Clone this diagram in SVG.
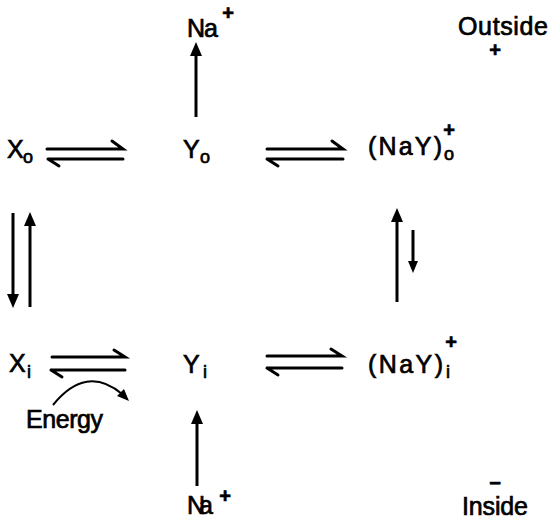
<svg xmlns="http://www.w3.org/2000/svg" width="549" height="520" viewBox="0 0 549 520">
<style>
text{font-family:"Liberation Sans","DejaVu Sans",Arial,sans-serif;fill:#000;stroke:#000;stroke-width:0.7}
.t{font-size:25px}
.s{font-size:18px}
.p{font-size:20px;font-weight:bold;text-anchor:middle}
.ln{stroke:#000;stroke-width:3;fill:none;stroke-linecap:butt}
.bb{stroke:#000;stroke-width:3;fill:none;stroke-linecap:round}
.hd{fill:#000;stroke:none}
</style>
<rect width="549" height="520" fill="#fff"/>
<g id="na-out"><text class="t" x="187" y="37" font-size="24" textLength="31">Na</text><text class="p" x="228" y="20">+</text></g>
<g id="outside"><text class="t" x="458" y="35" textLength="90">Outside</text><text class="p" x="495" y="57">+</text></g>
<g id="x-o"><text class="t" x="7" y="158">X</text><text class="s" x="23" y="163">o</text></g>
<g id="y-o"><text class="t" x="183" y="158">Y</text><text class="s" x="200" y="163">o</text></g>
<g id="nay-o"><text class="t" x="368" y="155" font-size="28" textLength="74">(NaY)</text><text class="p" x="449" y="137">+</text><text class="s" x="444" y="160">o</text></g>
<g id="x-i"><text class="t" x="9" y="372">X</text><text class="s" x="27" y="378">i</text></g>
<g id="y-i"><text class="t" x="183" y="373">Y</text><text class="s" x="203" y="378">i</text></g>
<g id="nay-i"><text class="t" x="368" y="373" font-size="28" textLength="75">(NaY)</text><text class="p" x="451" y="349">+</text><text class="s" x="446" y="378">i</text></g>
<g id="energy"><text class="t" x="26" y="428" font-size="22" textLength="77">Energy</text></g>
<g id="na-in"><text class="t" x="187" y="514" font-size="22" textLength="26">Na</text><text class="p" x="225" y="503">+</text></g>
<g id="inside"><text class="t" x="462" y="515" font-size="24" textLength="66">Inside</text><text class="p" x="495" y="490">−</text></g>
<g id="connectors">
<line class="ln" x1="196" y1="117" x2="196" y2="54"/><polygon class="hd" points="196,42 190,56 202,56"/>
<line class="ln" x1="197" y1="486" x2="197" y2="422"/><polygon class="hd" points="197,410 191,424 203,424"/>
<line class="ln" x1="13" y1="213" x2="13" y2="296"/><polygon class="hd" points="13,308 7,294 19,294"/>
<line class="ln" x1="30" y1="307" x2="30" y2="224"/><polygon class="hd" points="30,212 24,226 36,226"/>
<line class="ln" x1="397" y1="302" x2="397" y2="220"/><polygon class="hd" points="397,208 391,222 403,222"/>
<line class="ln" x1="413" y1="230" x2="413" y2="262"/><polygon class="hd" points="413,273 408,261 418,261"/>
<path class="bb" d="M47,149 H123 L112,141 M48,159 H123 M48,159 L59,166"/>
<path class="bb" d="M267,149 H343 L332,141 M267,159 H343 M267,159 L278,166"/>
<path class="bb" d="M52,357 H125 L114,350 M51,370 H125 M51,370 L62,377"/>
<path class="bb" d="M267,356 H342 L331,349 M267,368 H342 M267,368 L278,375"/>
<path d="M53,405 Q86,364 122,394" stroke="#000" stroke-width="2" fill="none"/>
<polygon class="hd" points="129,401 117,396 124,389"/>
</g>
</svg>
